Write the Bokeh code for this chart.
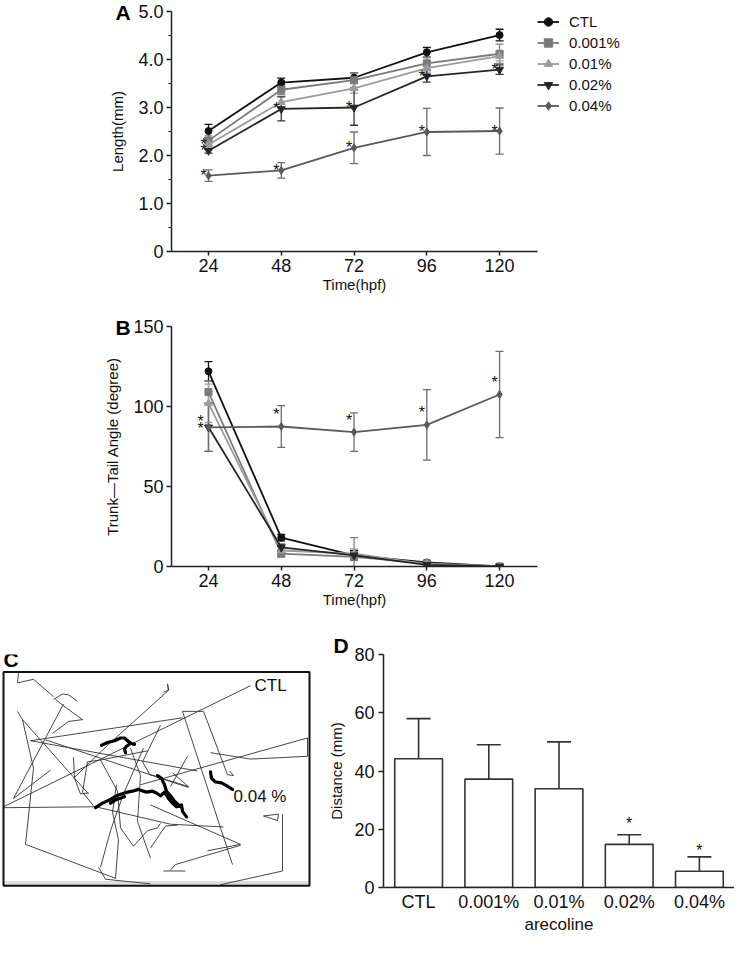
from bokeh.plotting import figure
from bokeh.models import (Range1d, FixedTicker, CustomJSTickFormatter, Whisker, TeeHead,
                          ColumnDataSource, Legend, LegendItem, Label, FactorRange)
from bokeh.layouts import column, row
from bokeh.core.properties import value
from bokeh.embed import file_html
from bokeh.resources import INLINE

FONT = "Liberation Sans"

# ---------------- data ----------------
hours = [24, 48, 72, 96, 120]
groups = ["CTL", "0.001%", "0.01%", "0.02%", "0.04%"]

# Panel A: body length (mm)
length_ctl = [2.51, 3.52, 3.62, 4.15, 4.51]
length_001 = [2.31, 3.37, 3.57, 3.92, 4.12]
length_01 = [2.23, 3.11, 3.40, 3.82, 4.07]
length_02 = [2.10, 2.97, 3.00, 3.65, 3.79]
length_04 = [1.58, 1.69, 2.16, 2.49, 2.51]
length_err_ctl = [0.14, 0.09, 0.10, 0.10, 0.12]
length_err_001 = [0.10, 0.10, 0.15, 0.12, 0.20]
length_err_01 = [0.10, 0.12, 0.10, 0.10, 0.10]
length_err_02 = [0.05, 0.25, 0.37, 0.12, 0.10]
length_err_04 = [0.12, 0.16, 0.33, 0.49, 0.48]

# Panel B: trunk-tail angle (degree)
angle_ctl = [122, 18, 7, 2.5, 0]
angle_001 = [109, 8, 6, 2, 0]
angle_01 = [102, 10, 8, 1.5, 0]
angle_02 = [87, 12, 7, 1, 0]
angle_04 = [87, 87.5, 84, 88.5, 107.5]
angle_err_ctl = [6, 2, 3, 1, 0.5]
angle_err_001 = [7, 2, 12, 1, 0.5]
angle_err_01 = [12, 2, 3, 1, 0.5]
angle_err_02 = [15, 2, 2, 1, 0.5]
angle_err_04 = [15, 13, 12, 22, 27]

# significance marks (x = hpf, y = group mean)
stars_a_x = [24, 24, 24, 48, 48, 72, 72, 96, 96, 120, 120]
stars_a_y = [2.23, 2.10, 1.58, 2.97, 1.69, 3.00, 2.16, 3.65, 2.49, 3.79, 2.51]
stars_b_x = [24, 24, 48, 72, 96, 120]
stars_b_y = [87, 87, 87.5, 84, 88.5, 107.5]

# Panel D: swimming distance (mm)
dist_groups = ["CTL", "0.001%", "0.01%", "0.02%", "0.04%"]
dist_mean = [44.2, 37.2, 33.9, 14.8, 5.6]
dist_err = [13.8, 11.8, 16.1, 3.3, 4.9]
dist_star_groups = ["0.02%", "0.04%"]
dist_star_y = [18.1, 10.5]

# Panel C: swimming tracks (arena coordinates, arena spans x 3..309, y 677..910)
arena_x = [3, 309]
arena_y = [677, 910]
ctl_tracks = [
    [(18, 677), (17, 689), (33, 685), (53, 704)],
    [(53, 707), (62, 701), (68, 702), (77, 709)],
    [(55, 707), (63, 714), (82, 729), (68, 731), (52, 744)],
    [(63, 712), (13, 815), (50, 784)],
    [(17, 720), (22, 729), (33, 782), (25, 865), (115, 902)],
    [(22, 729), (88, 810)],
    [(30, 752), (182, 727)],
    [(30, 752), (197, 785)],
    [(45, 751), (188, 803)],
    [(3, 824), (250, 692)],
    [(3, 825), (95, 824)],
    [(95, 824), (170, 843), (223, 846)],
    [(147, 763), (100, 773), (87, 775), (82, 808), (93, 823)],
    [(163, 699), (168, 697), (167, 690), (168, 697), (107, 757), (73, 793)],
    [(73, 770), (74, 793), (80, 810), (88, 809)],
    [(100, 773), (117, 807), (120, 847), (133, 867), (147, 850), (157, 847), (160, 842)],
    [(98, 890), (105, 903), (150, 908)],
    [(100, 890), (110, 850), (123, 810), (143, 760)],
    [(182, 720), (203, 720), (227, 789), (233, 790), (229, 785)],
    [(182, 720), (232, 887)],
    [(210, 765), (250, 772), (307, 769), (307, 749), (140, 800)],
    [(187, 769), (170, 802)],
    [(150, 789), (188, 802)],
    [(150, 822), (240, 865), (207, 872)],
    [(163, 894), (185, 894)],
    [(170, 893), (175, 887), (240, 866)],
    [(263, 834), (278, 832), (277, 839), (263, 834)],
    [(282, 832), (282, 894), (220, 909)],
    [(150, 869), (165, 845), (177, 844)],
    [(172, 787), (188, 802)],
    [(115, 902), (118, 860), (112, 830), (116, 800)],
    [(130, 760), (140, 790), (137, 840), (150, 880)],
    [(160, 735), (142, 775), (150, 790)],
]
arec_tracks = [
    [(101, 757), (107, 754), (114, 752), (120, 749), (124, 749), (127, 752), (130, 755),
     (126, 758), (124, 761), (125, 765)],
    [(127, 752), (131, 755), (134, 756)],
    [(95, 825), (102, 820), (110, 816), (116, 812), (121, 810), (127, 808), (132, 807), (138, 805)],
    [(110, 820), (116, 816), (124, 813)],
    [(140, 806), (146, 808), (152, 807), (156, 809), (160, 812), (164, 808), (168, 815),
     (172, 820), (176, 824), (181, 822), (182, 829), (186, 835)],
    [(157, 790), (161, 793), (164, 800), (166, 807), (170, 812), (174, 818), (178, 822)],
    [(210, 786), (211, 793), (215, 797), (221, 798), (226, 801), (232, 805)],
]

# ---------------- styles ----------------
colors = ["#111111", "#7a7a7a", "#9c9c9c", "#262626", "#5a5a5a"]
err_colors = ["#111111", "#808080", "#a0a0a0", "#333333", "#6e6e6e"]
markers = ["circle", "square", "triangle", "inverted_triangle", "diamond"]
msizes = [7, 7, 8, 8, 8]


def style_axis(ax, tick_out=5):
    ax.axis_line_width = 1.5
    ax.axis_line_color = "#222222"
    ax.major_tick_line_color = "#222222"
    ax.major_tick_line_width = 1.5
    ax.major_tick_in = 0
    ax.major_tick_out = tick_out
    ax.minor_tick_line_color = None
    ax.major_label_text_font = FONT
    ax.major_label_text_font_size = "18px"
    ax.major_label_text_color = "#111111"
    ax.axis_label_text_font = FONT
    ax.axis_label_text_font_size = "15px"
    ax.axis_label_text_font_style = "normal"
    ax.axis_label_text_color = "#111111"


def letter_title(p, letter, offset, standoff):
    p.title.text = letter
    p.title.align = "left"
    p.title.offset = offset
    p.title.standoff = standoff
    p.title.text_font = FONT
    p.title.text_font_size = "21px"
    p.title.text_font_style = "bold"
    p.title.text_color = "#000000"


def line_panel(frame_h, top, bottom, yr, yticks, yminor, fmt, ylabel, means, errs, letter,
               sx, sy, s_xoff, s_yoff):
    p = figure(frame_width=366, frame_height=frame_h, x_range=Range1d(11.8, 132.5), y_range=yr,
               output_backend="svg", toolbar_location=None,
               min_border_left=171, min_border_right=197, min_border_top=top,
               min_border_bottom=bottom)
    p.outline_line_color = None
    p.grid.visible = False
    p.background_fill_color = "white"
    style_axis(p.xaxis[0], tick_out=4)
    style_axis(p.yaxis[0], tick_out=5)
    p.xaxis.ticker = FixedTicker(ticks=hours)
    p.xaxis.axis_label = "Time(hpf)"
    p.xaxis.major_label_standoff = 3
    p.xaxis.axis_label_standoff = 1
    p.yaxis.ticker = FixedTicker(ticks=yticks, minor_ticks=yminor)
    p.yaxis.formatter = CustomJSTickFormatter(code=fmt)
    p.yaxis.axis_label = ylabel
    p.yaxis.major_label_standoff = 3
    p.yaxis.axis_label_standoff = 9
    if yminor:
        p.yaxis.minor_tick_line_color = "#222222"
        p.yaxis.minor_tick_line_width = 1.2
        p.yaxis.minor_tick_in = 0
        p.yaxis.minor_tick_out = 3

    items = []
    for i in range(len(groups)):
        m, e = means[i], errs[i]
        src = ColumnDataSource(dict(x=hours, y=m,
                                    upper=[a + b for a, b in zip(m, e)],
                                    lower=[a - b for a, b in zip(m, e)]))
        w = Whisker(source=src, base="x", upper="upper", lower="lower",
                    line_color=err_colors[i], line_width=1.3,
                    upper_head=TeeHead(size=8, line_color=err_colors[i], line_width=1.3),
                    lower_head=TeeHead(size=8, line_color=err_colors[i], line_width=1.3))
        p.add_layout(w)
        lr = p.line("x", "y", source=src, line_color=colors[i], line_width=1.8)
        sr = p.scatter("x", "y", source=src, marker=markers[i], size=msizes[i],
                       fill_color=colors[i], line_color=colors[i])
        items.append(LegendItem(label=groups[i], renderers=[lr, sr]))

    p.text(x=sx, y=sy, text=["*"] * len(sx), x_offset=s_xoff, y_offset=s_yoff,
           text_font=value(FONT), text_font_size=value("16px"), text_color="#111111",
           text_align="center", text_baseline="middle")
    letter_title(p, letter, -56, -24)
    return p, items


fmt_a = "return tick == 0 ? '0' : tick.toFixed(1);"
fmt_b = "return tick.toFixed(0);"

pa, items = line_panel(
    240, 11, 50, Range1d(0, 5.0), [0, 1, 2, 3, 4, 5], [0.5, 1.5, 2.5, 3.5, 4.5], fmt_a,
    "Length(mm)",
    [length_ctl, length_001, length_01, length_02, length_04],
    [length_err_ctl, length_err_001, length_err_01, length_err_02, length_err_04],
    "A", stars_a_x, stars_a_y, -5, 0)

legend = Legend(items=items, location="top_left", margin=0, padding=0, spacing=0,
                glyph_width=22, glyph_height=21, label_height=21, label_standoff=10,
                label_text_font=FONT, label_text_font_size="15px",
                label_text_color="#111111", border_line_color=None,
                background_fill_alpha=0)
pa.add_layout(legend, "right")

pb, _ = line_panel(
    240, 25, 50, Range1d(0, 150), [0, 50, 100, 150], [], fmt_b,
    "Trunk\u2014Tail Angle (degree)",
    [angle_ctl, angle_001, angle_01, angle_02, angle_04],
    [angle_err_ctl, angle_err_001, angle_err_01, angle_err_02, angle_err_04],
    "B", stars_b_x, stars_b_y, [-8, -8, -5, -5, -5, -5], [-6, 1, -12, -12, -12, -12])

# ---------------- Panel C ----------------
pc = figure(frame_width=312, frame_height=233, x_range=Range1d(0, 312), y_range=Range1d(912, 658),
            output_backend="svg", toolbar_location=None,
            x_axis_location=None, y_axis_location=None,
            min_border_left=0, min_border_right=6, min_border_top=38, min_border_bottom=50)
pc.grid.visible = False
pc.outline_line_color = None
pc.quad(left=[arena_x[0]], right=[arena_x[1]], top=[arena_y[1] - 5], bottom=[arena_y[1]],
        fill_color="#dedede", line_color=None)
pc.multi_line(xs=[[pt[0] for pt in t] for t in ctl_tracks],
              ys=[[pt[1] for pt in t] for t in ctl_tracks],
              line_color="#333333", line_width=0.9)
pc.multi_line(xs=[[pt[0] for pt in t] for t in arec_tracks],
              ys=[[pt[1] for pt in t] for t in arec_tracks],
              line_color="#000000", line_width=3.2, line_join="round", line_cap="round")
pc.quad(left=[arena_x[0]], right=[arena_x[1]], top=[arena_y[0]], bottom=[arena_y[1]],
        fill_color=None, line_color="#111111", line_width=2)
pc.add_layout(Label(x=254, y=692, text="CTL", text_font=FONT, text_font_size="17px",
                    text_align="left", text_baseline="middle", text_color="#111111"))
pc.add_layout(Label(x=233, y=813, text="0.04 %", text_font=FONT, text_font_size="17px",
                    text_align="left", text_baseline="middle", text_color="#111111"))
pc.add_layout(Label(x=3, y=676, text="C", text_font=FONT, text_font_size="21px",
                    text_font_style="bold", text_align="left", text_baseline="bottom",
                    text_color="#000000"))

# ---------------- Panel D ----------------
pd = figure(frame_width=351, frame_height=233, x_range=FactorRange(*dist_groups),
            y_range=Range1d(0, 80),
            output_backend="svg", toolbar_location=None,
            min_border_left=65, min_border_right=0, min_border_top=38, min_border_bottom=50)
pd.grid.visible = False
pd.outline_line_color = None
style_axis(pd.xaxis[0], tick_out=0)
style_axis(pd.yaxis[0], tick_out=5)
pd.xaxis.major_tick_line_color = None
pd.xaxis.axis_label = "arecoline"
pd.xaxis.axis_label_text_font_size = "17px"
pd.xaxis.major_label_standoff = 4
pd.xaxis.axis_label_standoff = 0
pd.yaxis.ticker = FixedTicker(ticks=[0, 20, 40, 60, 80])
pd.yaxis.axis_label = "Distance (mm)"
pd.yaxis.major_label_standoff = 4
pd.yaxis.axis_label_standoff = 6

dsrc = ColumnDataSource(dict(x=dist_groups, top=dist_mean,
                             upper=[a + b for a, b in zip(dist_mean, dist_err)]))
pd.vbar(x="x", top="top", source=dsrc, width=0.68, fill_color="white",
        line_color="#333333", line_width=1.6)
pd.add_layout(Whisker(source=dsrc, base="x", upper="upper", lower="top",
                      line_color="#333333", line_width=1.6,
                      upper_head=TeeHead(size=24, line_color="#333333", line_width=1.6),
                      lower_head=None))
pd.text(x=dist_star_groups, y=dist_star_y, text=["*"] * 2, y_offset=[-11, -6],
        text_font=value(FONT), text_font_size=value("16px"), text_color="#111111",
        text_align="center", text_baseline="middle")
letter_title(pd, "D", -50, -4)

layout = column(pa, pb, row(pc, pd), spacing=0)
open("out.html", "w").write(file_html(layout, INLINE))
